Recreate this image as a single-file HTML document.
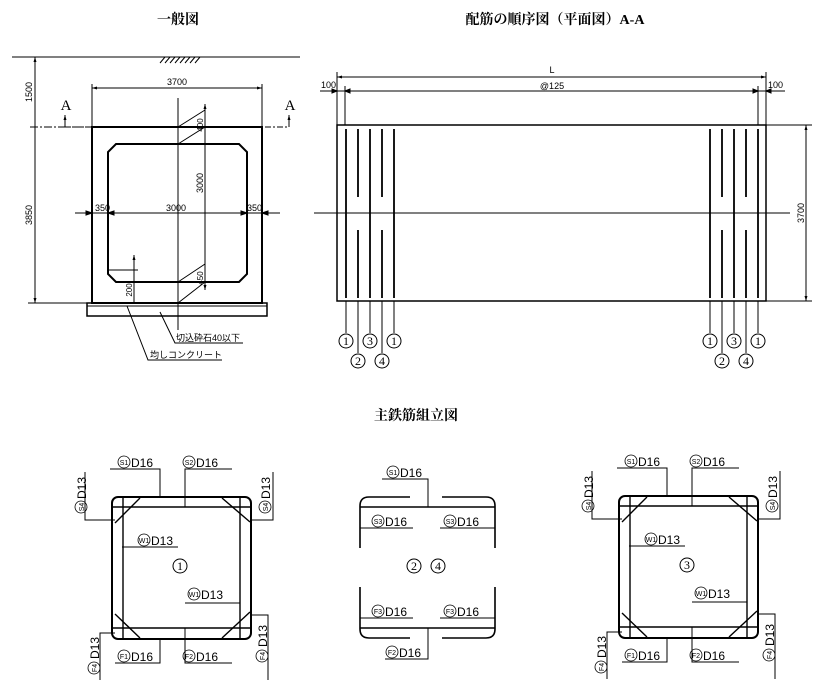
<!DOCTYPE html>
<html><head><meta charset="utf-8"><style>
html,body{margin:0;padding:0;background:#fff;}
svg{display:block;}
text{font-family:"Liberation Sans","Noto Sans CJK JP",sans-serif;fill:#000;}
.t{font-family:"Liberation Serif","Noto Serif CJK SC",serif;font-weight:bold;}
.n{font-family:"Liberation Serif",serif;}
</style></head><body>
<svg width="832" height="689" viewBox="0 0 832 689" xmlns="http://www.w3.org/2000/svg" stroke="#000" fill="none">
<defs>
<marker id="a" viewBox="0 0 10 10" refX="10" refY="5" markerWidth="5" markerHeight="5" orient="auto-start-reverse"><path d="M0,2 L10,5 L0,8 z" fill="#000" stroke="none"/></marker>
</defs>
<text class="t" x="178" y="24" font-size="14" text-anchor="middle" stroke="none">一般図</text>
<text class="t" x="555" y="24" font-size="14" text-anchor="middle" stroke="none">配筋の順序図（平面図）A-A</text>
<text class="t" x="416" y="420" font-size="14" text-anchor="middle" stroke="none">主鉄筋組立図</text>

<!-- General view -->
<g stroke-width="1">
<line x1="12" y1="57" x2="300" y2="57"/>
<path d="M160,63 l5,-6 M165,63 l5,-6 M170,63 l5,-6 M175,63 l5,-6 M180,63 l5,-6 M185,63 l5,-6 M190,63 l5,-6 M195,63 l5,-6"/>
<line x1="35" y1="57" x2="35" y2="303" marker-start="url(#a)" marker-end="url(#a)"/>
<line x1="30" y1="127" x2="92" y2="127" stroke-dasharray="8,2,2,2"/>
<line x1="28" y1="303" x2="92" y2="303"/>
<line x1="92" y1="84" x2="92" y2="127"/>
<line x1="262" y1="84" x2="262" y2="127"/>
<line x1="92" y1="88" x2="262" y2="88" marker-start="url(#a)" marker-end="url(#a)"/>
</g>
<text x="177" y="85" font-size="9" text-anchor="middle" stroke="none">3700</text>
<text transform="translate(32,92) rotate(-90)" font-size="9" text-anchor="middle" stroke="none">1500</text>
<text transform="translate(32,215) rotate(-90)" font-size="9" text-anchor="middle" stroke="none">3850</text>
<text class="n" x="66" y="110" font-size="15" text-anchor="middle" stroke="none">A</text>
<text class="n" x="290" y="110" font-size="15" text-anchor="middle" stroke="none">A</text>
<path d="M65,127 L89,127 M265,127 L289,127" stroke-dasharray="6,2,2,2"/>
<line x1="65" y1="127" x2="65" y2="115" marker-end="url(#a)"/>
<line x1="289" y1="127" x2="289" y2="115" marker-end="url(#a)"/>
<rect x="92" y="127" width="170" height="176" stroke-width="2"/>
<path d="M116,144 L239,144 L247,152 L247,274 L239,282 L116,282 L108,274 L108,152 Z" stroke-width="2"/>
<rect x="87" y="303" width="180" height="13" stroke-width="1.5"/>
<line x1="87" y1="306" x2="267" y2="306"/>
<g stroke-width="1">
<line x1="178" y1="98" x2="178" y2="330"/>
<line x1="205" y1="104" x2="205" y2="290" marker-start="url(#a)" marker-end="url(#a)"/>
<path d="M178,127 L205,110 M178,144 L205,127 M178,282 L205,264 M178,303 L205,282"/>
<line x1="75" y1="213" x2="280" y2="213"/>
<path d="M92,213 l-6,-2 v4 z M108,213 l6,-2 v4 z M247,213 l-6,-2 v4 z M262,213 l6,-2 v4 z" fill="#000"/>
<line x1="134" y1="255" x2="134" y2="303" marker-start="url(#a)"/>
<line x1="108" y1="270" x2="138" y2="270"/>
<path d="M127,306 L148,360 L222,360 M160,312 L175,343 L243,343"/>
</g>
<text x="95" y="211" font-size="9" stroke="none">350</text>
<text x="176" y="211" font-size="9" text-anchor="middle" stroke="none">3000</text>
<text x="247" y="211" font-size="9" stroke="none">350</text>
<text transform="translate(203,125) rotate(-90)" font-size="8" text-anchor="middle" stroke="none">400</text>
<text transform="translate(203,183) rotate(-90)" font-size="9" text-anchor="middle" stroke="none">3000</text>
<text transform="translate(203,278) rotate(-90)" font-size="8" text-anchor="middle" stroke="none">450</text>
<text transform="translate(132,290) rotate(-90)" font-size="8" text-anchor="middle" stroke="none">200</text>
<text x="176" y="341" font-size="9" stroke="none">切込砕石40以下</text>
<text x="150" y="358" font-size="9" stroke="none">均しコンクリート</text>

<!-- Plan view -->
<g stroke-width="1">
<line x1="337" y1="72" x2="337" y2="125"/>
<line x1="766" y1="72" x2="766" y2="125"/>
<line x1="345" y1="86" x2="345" y2="125"/>
<line x1="758" y1="86" x2="758" y2="125"/>
<line x1="337" y1="77" x2="766" y2="77" marker-start="url(#a)" marker-end="url(#a)"/>
<line x1="320" y1="91" x2="785" y2="91"/>
<path d="M337,91 l-5,-2 v4z M345,91 l5,-2 v4z M758,91 l-5,-2 v4z M766,91 l5,-2 v4z" fill="#000"/>
<line x1="766" y1="125" x2="812" y2="125"/>
<line x1="766" y1="301" x2="812" y2="301"/>
<line x1="806" y1="125" x2="806" y2="301" marker-start="url(#a)" marker-end="url(#a)"/>
<line x1="314" y1="213" x2="790" y2="213"/>
</g>
<text x="552" y="73" font-size="9" text-anchor="middle" stroke="none">L</text>
<text x="552" y="89" font-size="9" text-anchor="middle" stroke="none">@125</text>
<text x="321" y="88" font-size="9" stroke="none">100</text>
<text x="768" y="88" font-size="9" stroke="none">100</text>
<text transform="translate(804,213) rotate(-90)" font-size="9" text-anchor="middle" stroke="none">3700</text>
<rect x="337" y="125" width="429" height="176" stroke-width="1.5"/>
<g stroke-width="1.8">
<line x1="346" y1="129" x2="346" y2="298"/>
<line x1="370" y1="129" x2="370" y2="298"/>
<line x1="394" y1="129" x2="394" y2="298"/>
<path d="M358,129 V197 M358,230 V298 M382,129 V197 M382,230 V298"/>
<line x1="710" y1="129" x2="710" y2="298"/>
<line x1="734" y1="129" x2="734" y2="298"/>
<line x1="758" y1="129" x2="758" y2="298"/>
<path d="M722,129 V197 M722,230 V298 M746,129 V197 M746,230 V298"/>
</g>
<path d="M346,301 V333 M370,301 V333 M394,301 V333 M358,301 V353 M382,301 V353 M710,301 V333 M734,301 V333 M758,301 V333 M722,301 V353 M746,301 V353" stroke-width="1"/>
<g stroke-width="1">
<circle cx="346" cy="341" r="7"/><circle cx="370" cy="341" r="7"/><circle cx="394" cy="341" r="7"/>
<circle cx="358" cy="361" r="7"/><circle cx="382" cy="361" r="7"/>
<circle cx="710" cy="341" r="7"/><circle cx="734" cy="341" r="7"/><circle cx="758" cy="341" r="7"/>
<circle cx="722" cy="361" r="7"/><circle cx="746" cy="361" r="7"/>
</g>
<g class="n" font-size="12" text-anchor="middle" stroke="none">
<text class="n" x="346" y="345">1</text><text class="n" x="370" y="345">3</text><text class="n" x="394" y="345">1</text>
<text class="n" x="358" y="365">2</text><text class="n" x="382" y="365">4</text>
<text class="n" x="710" y="345">1</text><text class="n" x="734" y="345">3</text><text class="n" x="758" y="345">1</text>
<text class="n" x="722" y="365">2</text><text class="n" x="746" y="365">4</text>
</g>

<!-- Assembly left -->
<g id="L">
<rect x="112" y="497" width="139" height="142" rx="6" stroke-width="2"/>
<g stroke-width="1.4">
<line x1="112" y1="507" x2="251" y2="507"/>
<line x1="112" y1="628" x2="251" y2="628"/>
<line x1="123" y1="497" x2="123" y2="639"/>
<line x1="240" y1="497" x2="240" y2="639"/>
<path d="M115,523 L140,498 M222,498 L250,522 M115,614 L140,638 M222,638 L250,612"/>
</g>
<path d="M110,469 H160 V497 M185,507 V469 H232 M85,472 V520 H115 M273,472 V520 H250 M122,547 H178 M185,603 H240 M115,663 H160 V640 M185,628 V663 H232 M100,680 V633 H115 M268,680 V615 H250" stroke-width="1"/>
<g stroke-width="0.8">
<circle cx="124" cy="462" r="6"/><circle cx="189" cy="462" r="6"/>
<circle cx="144" cy="540" r="6"/><circle cx="194" cy="594" r="6"/>
<circle cx="124" cy="656" r="6"/><circle cx="189" cy="656" r="6"/>
<circle cx="81" cy="507" r="6"/><circle cx="265" cy="507" r="6"/>
<circle cx="94" cy="668" r="6"/><circle cx="262" cy="656" r="6"/>
</g>
<g font-size="7" text-anchor="middle" stroke="none">
<text x="124" y="465">S1</text><text x="189" y="465">S2</text>
<text x="144" y="543">W1</text><text x="194" y="597">W1</text>
<text x="124" y="659">F1</text><text x="189" y="659">F2</text>
<text transform="translate(84,507) rotate(-90)">S4</text>
<text transform="translate(268,507) rotate(-90)">S4</text>
<text transform="translate(97,668) rotate(-90)">F4</text>
<text transform="translate(265,656) rotate(-90)">F4</text>
</g>
<g font-size="12" stroke="none">
<text x="131" y="467">D16</text><text x="196" y="467">D16</text>
<text x="151" y="545">D13</text><text x="201" y="599">D13</text>
<text x="131" y="661">D16</text><text x="196" y="661">D16</text>
<text transform="translate(86,499) rotate(-90)">D13</text>
<text transform="translate(270,499) rotate(-90)">D13</text>
<text transform="translate(99,659) rotate(-90)">D13</text>
<text transform="translate(267,647) rotate(-90)">D13</text>
</g>
</g>
<circle cx="180" cy="566" r="7" stroke-width="1"/>
<text class="n" x="180" y="570" font-size="12" text-anchor="middle" stroke="none">1</text>
<use href="#L" transform="translate(507,-1)"/>
<circle cx="687" cy="565" r="7" stroke-width="1"/>
<text class="n" x="687" y="569" font-size="12" text-anchor="middle" stroke="none">3</text>

<!-- Assembly middle -->
<g stroke-width="1.6">
<path d="M360,548 V506 Q360,497 369,497 H410 M442,497 H486 Q495,497 495,506 V548"/>
<line x1="360" y1="507" x2="495" y2="507"/>
<path d="M360,587 V629 Q360,638 369,638 H410 M442,638 H486 Q495,638 495,629 V587"/>
<line x1="360" y1="628" x2="495" y2="628"/>
</g>
<path d="M382,479 H428 V507 M360,528 H413 M440,528 H495 M360,618 H413 M440,618 H495 M428,628 V659 H385" stroke-width="1"/>
<g stroke-width="0.8">
<circle cx="393" cy="472" r="6"/><circle cx="378" cy="521" r="6"/><circle cx="450" cy="521" r="6"/>
<circle cx="378" cy="611" r="6"/><circle cx="450" cy="611" r="6"/><circle cx="392" cy="652" r="6"/>
</g>
<g font-size="7" text-anchor="middle" stroke="none">
<text x="393" y="475">S1</text><text x="378" y="524">S3</text><text x="450" y="524">S3</text>
<text x="378" y="614">F3</text><text x="450" y="614">F3</text><text x="392" y="655">F2</text>
</g>
<g font-size="12" stroke="none">
<text x="400" y="477">D16</text><text x="385" y="526">D16</text><text x="457" y="526">D16</text>
<text x="385" y="616">D16</text><text x="457" y="616">D16</text><text x="399" y="657">D16</text>
</g>
<circle cx="414" cy="566" r="7" stroke-width="1"/><circle cx="438" cy="566" r="7" stroke-width="1"/>
<text class="n" x="414" y="570" font-size="12" text-anchor="middle" stroke="none">2</text>
<text class="n" x="438" y="570" font-size="12" text-anchor="middle" stroke="none">4</text>
</svg>
</body></html>
